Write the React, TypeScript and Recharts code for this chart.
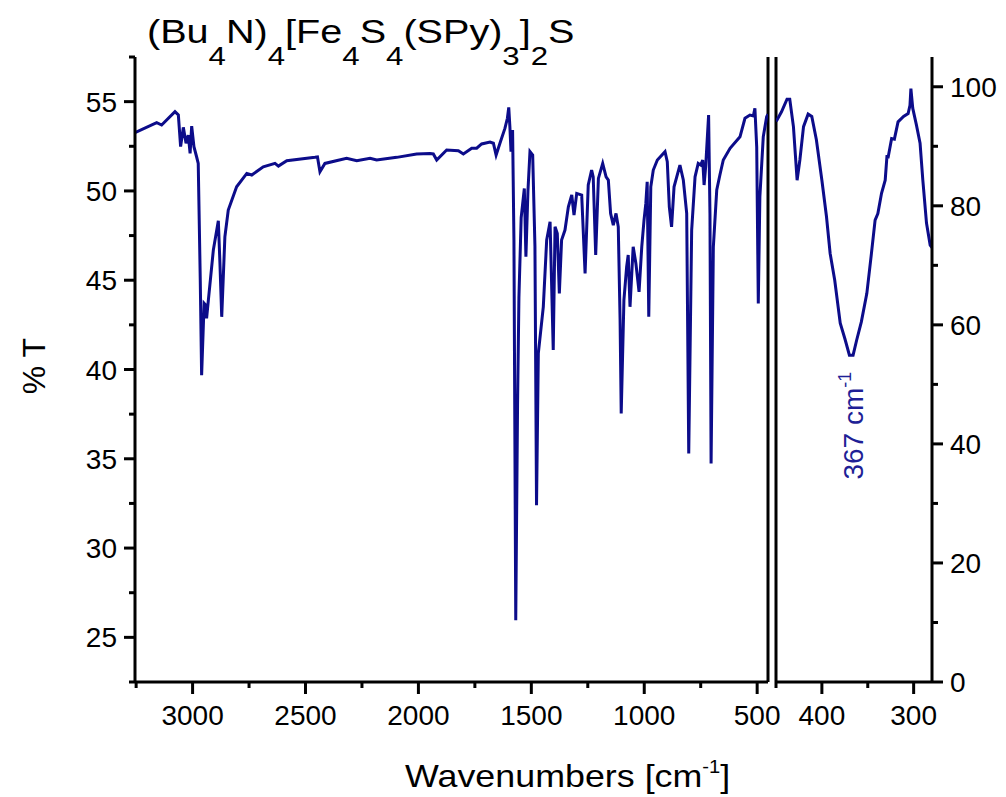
import { LineChart, Line, XAxis, YAxis, ReferenceLine, ReferenceDot } from 'recharts';

// Left panel: 3255 -> 452 cm-1, read against the left %T axis
const leftWavenumbers = [
  3255, 3159, 3137, 3078, 3063, 3053, 3041, 3029, 3019, 3011, 3004, 2994, 2982, 2975, 2966, 2960,
  2949, 2942, 2938, 2930, 2908, 2886, 2879, 2871, 2857, 2842, 2805, 2760, 2738, 2687, 2635, 2620,
  2583, 2458, 2447, 2436, 2414, 2318, 2273, 2214, 2185, 2096, 2008, 1949, 1934, 1919, 1875, 1823,
  1801, 1764, 1742, 1720, 1683, 1668, 1656, 1639, 1617, 1606, 1600, 1595, 1590, 1583, 1577, 1569,
  1561, 1555, 1545, 1531, 1524, 1515, 1506, 1494, 1484, 1477, 1469, 1447, 1432, 1417, 1403, 1395,
  1385, 1376, 1366, 1351, 1336, 1321, 1311, 1299, 1277, 1262, 1248, 1233, 1226, 1215, 1203, 1184,
  1169, 1159, 1149, 1137, 1125, 1115, 1107, 1102, 1090, 1078, 1071, 1063, 1049, 1037, 1023, 1011,
  1001, 993, 987, 980, 971, 960, 942, 908, 898, 889, 879, 868, 842, 827, 812, 803,
  790, 775, 761, 750, 741, 735, 728, 715, 709, 704, 694, 679, 665, 650, 620, 576,
  554, 532, 517, 510, 502, 495, 488, 473, 458, 452,
];
const leftTransmittance = [
  53.26, 53.82, 53.69, 54.44, 54.25, 52.48, 53.56, 52.67, 53.13, 52.1, 53.63, 52.48, 51.9, 51.54, 45.0, 39.68,
  43.7, 43.6, 42.86, 43.9, 46.7, 48.33, 46.0, 42.95, 47.43, 48.93, 50.23, 50.98, 50.89, 51.35, 51.54, 51.39,
  51.69, 51.88, 51.9, 51.07, 51.54, 51.83, 51.69, 51.83, 51.73, 51.88, 52.07, 52.1, 52.07, 51.73, 52.29, 52.25,
  52.07, 52.39, 52.39, 52.63, 52.74, 52.67, 52.01, 52.67, 53.5, 54.07, 54.68, 53.6, 52.2, 53.41, 47.25, 25.96,
  38.0, 44.0, 48.5, 50.14, 46.31, 50.0, 52.2, 52.01, 46.9, 32.4, 40.9, 43.51, 47.25, 48.27, 41.09, 47.99,
  47.62, 44.26, 47.25, 47.81, 49.11, 49.77, 48.65, 49.86, 49.77, 45.38, 50.33, 51.17, 50.79, 46.41, 50.7, 51.54,
  50.79, 50.61, 48.74, 48.09, 48.74, 47.99, 42.77, 37.54, 43.89, 45.75, 46.41, 43.51, 46.87, 45.94, 44.35, 46.87,
  48.37, 49.3, 50.51, 42.95, 50.23, 51.17, 51.73, 52.2, 51.64, 49.11, 47.99, 50.23, 51.45, 50.61, 48.74, 35.3,
  47.81, 50.79, 51.54, 51.45, 51.73, 50.33, 51.36, 54.25, 48.74, 34.74, 46.87, 50.05, 50.89, 51.73, 52.39, 53.03,
  54.07, 54.25, 54.2, 54.63, 52.47, 43.7, 49.67, 53.03, 54.16, 54.3,
];

// Right panel: 450 -> 280 cm-1, read against the right axis
const rightWavenumbers = [
  450, 449, 444, 438, 435, 431, 427, 424, 420, 415, 411, 406, 400, 395, 391, 386,
  380, 375, 370, 366, 362, 357, 351, 346, 342, 339, 335, 331, 329, 328, 324, 321,
  317, 311, 306, 304, 303, 301, 297, 293, 290, 286, 282, 280,
];
const rightTransmittance = [
  94.2, 94.4, 95.8, 97.9, 97.9, 93.3, 84.3, 87.7, 93.3, 95.4, 95.0, 91.1, 84.3, 78.2, 72.0, 67.5,
  60.3, 57.7, 54.9, 54.9, 57.5, 60.5, 65.3, 72.0, 77.6, 78.7, 82.1, 84.3, 88.5, 88.0, 91.3, 91.2,
  94.1, 95.0, 95.5, 96.9, 99.7, 96.4, 93.6, 90.5, 84.3, 77.1, 73.4, 73.0,
];

// Ticks
const leftXTicks = [3250, 3000, 2750, 2500, 2250, 2000, 1750, 1500, 1250, 1000, 750, 500];
const leftYTicks = [22.5, 25, 27.5, 30, 32.5, 35, 37.5, 40, 42.5, 45, 47.5, 50, 52.5, 55, 57.5];
const rightXTicks = [450, 400, 350, 300];
const rightYTicks = [0, 10, 20, 30, 40, 50, 60, 70, 80, 90, 100];

const peakWavenumber = 367;

// (Bu4N)4[Fe4S4(SPy)3]2S, split into normal / subscript pieces
const titleParts: [string, boolean][] = [
  ['(Bu', false], ['4', true], ['N)', false], ['4', true], ['[Fe', false], ['4', true],
  ['S', false], ['4', true], ['(SPy)', false], ['3', true], [']', false], ['2', true], ['S', false],
];

const leftData = leftWavenumbers.map((wn, i) => ({ wn, t: leftTransmittance[i] }));
const rightData = rightWavenumbers.map((wn, i) => ({ wn, t: rightTransmittance[i] }));

const FONT = 'Arial, "Liberation Sans", Helvetica, sans-serif';
const LINE_COLOR = '#0c0c8a';

const makeBottomTick = (majorStep: number) => (props: any) => {
  const { x, y, payload } = props;
  const major = payload.value % majorStep === 0;
  return (
    <g>
      <line x1={x} y1={y} x2={x} y2={y + (major ? 12 : 6)} stroke="#000" strokeWidth={3} />
      {major && (
        <text x={x} y={y + 43} textAnchor="middle" fontSize={28} fontFamily={FONT} fill="#000">
          {payload.value}
        </text>
      )}
    </g>
  );
};

const makeSideTick = (majorStep: number, side: 'left' | 'right') => (props: any) => {
  const { x, y, payload } = props;
  const major = payload.value % majorStep === 0;
  const dir = side === 'left' ? -1 : 1;
  const len = major ? 11 : 6;
  return (
    <g>
      <line x1={x} y1={y} x2={x + dir * len} y2={y} stroke="#000" strokeWidth={3} />
      {major && (
        <text
          x={x + dir * 18}
          y={y}
          dy="0.36em"
          textAnchor={side === 'left' ? 'end' : 'start'}
          fontSize={28}
          fontFamily={FONT}
          fill="#000"
        >
          {payload.value}
        </text>
      )}
    </g>
  );
};

const PeakLabel = (props: any) => {
  const { cx, cy } = props;
  return (
    <text
      transform={`translate(${cx + 11},${cy}) rotate(-90)`}
      fontSize={28}
      fontFamily={FONT}
      fill="#1f1f96"
    >
      {peakWavenumber} cm
      <tspan dy={-12} fontSize={18}>-1</tspan>
    </text>
  );
};

const App = () => {
  const axisLine = { stroke: '#000', strokeWidth: 3 };
  return (
    <div style={{ position: 'absolute', left: 0, top: 0, width: 1006, height: 797, background: '#fff' }}>
      {/* left panel spans the whole width so the "500" label is not clipped */}
      <div style={{ position: 'absolute', left: 0, top: 0 }}>
        <LineChart width={1006} height={797} data={leftData} margin={{ top: 57, right: 238, bottom: 85, left: 0 }}>
          <XAxis
            dataKey="wn"
            type="number"
            domain={[452, 3255]}
            reversed
            allowDataOverflow
            ticks={leftXTicks}
            interval={0}
            height={30}
            axisLine={axisLine}
            tickLine={false}
            tickSize={0}
            tickMargin={0}
            tick={makeBottomTick(500)}
          />
          <YAxis
            type="number"
            domain={[22.5, 57.5]}
            allowDataOverflow
            ticks={leftYTicks}
            interval={0}
            width={135}
            axisLine={axisLine}
            tickLine={false}
            tickSize={0}
            tickMargin={0}
            tick={makeSideTick(5, 'left')}
          />
          <ReferenceLine x={452} stroke="#000" strokeWidth={3} />
          <Line
            dataKey="t"
            type="linear"
            stroke={LINE_COLOR}
            strokeWidth={3}
            dot={false}
            isAnimationActive={false}
          />
        </LineChart>
      </div>

      <div style={{ position: 'absolute', left: 772, top: 0 }}>
        <LineChart width={234} height={797} data={rightData} margin={{ top: 57, right: 0, bottom: 85, left: 4 }}>
          <XAxis
            dataKey="wn"
            type="number"
            domain={[280, 450]}
            reversed
            allowDataOverflow
            ticks={rightXTicks}
            interval={0}
            height={30}
            axisLine={axisLine}
            tickLine={false}
            tickSize={0}
            tickMargin={0}
            tick={makeBottomTick(100)}
          />
          <YAxis
            type="number"
            orientation="right"
            domain={[0, 105]}
            allowDataOverflow
            ticks={rightYTicks}
            interval={0}
            width={74}
            axisLine={axisLine}
            tickLine={false}
            tickSize={0}
            tickMargin={0}
            tick={makeSideTick(20, 'right')}
          />
          <ReferenceLine x={450} stroke="#000" strokeWidth={3} />
          <Line
            dataKey="t"
            type="linear"
            stroke={LINE_COLOR}
            strokeWidth={3}
            dot={false}
            isAnimationActive={false}
          />
          <ReferenceDot x={peakWavenumber} y={34} r={0} shape={PeakLabel} />
        </LineChart>
      </div>

      <svg
        width={1006}
        height={797}
        style={{ position: 'absolute', left: 0, top: 0, pointerEvents: 'none' }}
        fontFamily={FONT}
      >
        <text transform="translate(147,43) scale(1.2,1)" fontSize={33} fill="#000">
          {titleParts.map(([s, sub], i) => {
            const prevSub = i > 0 && titleParts[i - 1][1];
            const dy = sub ? 22 : prevSub ? -22 : 0;
            return (
              <tspan key={i} dy={dy} fontSize={sub ? 26 : 33}>
                {s}
              </tspan>
            );
          })}
        </text>
        <text transform="translate(45,366) rotate(-90)" textAnchor="middle" fontSize={32} fill="#000">
          % T
        </text>
        <text transform="translate(405,787) scale(1.12,1)" fontSize={32} fill="#000">
          Wavenumbers [cm<tspan dy={-14} fontSize={18}>-1</tspan>
          <tspan dy={14}>]</tspan>
        </text>
      </svg>
    </div>
  );
};

export default App;
